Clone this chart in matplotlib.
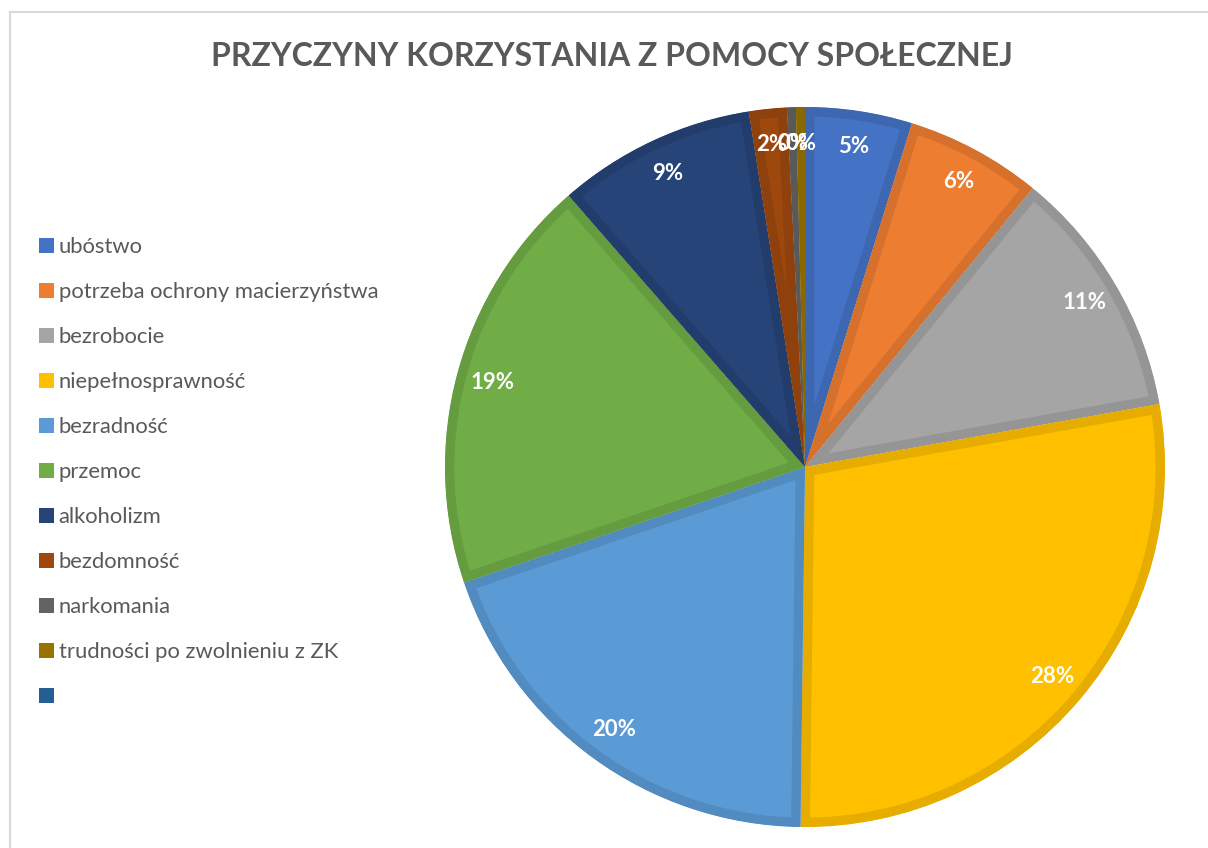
import matplotlib.pyplot as plt
from matplotlib.patches import Rectangle
import matplotlib.colors as mcolors

categories = ['ubóstwo', 'potrzeba ochrony macierzyństwa', 'bezrobocie', 'niepełnosprawność',
              'bezradność', 'przemoc', 'alkoholizm', 'bezdomność', 'narkomania',
              'trudności po zwolnieniu z ZK', '']
shares = [4.8, 6.1, 11.3, 28.0, 19.6, 18.8, 8.9, 1.7, 0.4, 0.4, 0.0]
colors = ['#4472C4', '#ED7D31', '#A5A5A5', '#FFC000', '#5B9BD5', '#70AD47',
          '#264478', '#9E480E', '#636363', '#997300', '#255E91']

plt.rcParams['font.family'] = ['Lato', 'DejaVu Sans']

W, H = 1208, 848
fig = plt.figure(figsize=(W / 100, H / 100), dpi=100)

# chart frame (only left/top edges visible in the picture)
fig.patches.append(Rectangle((10 / W, -0.1), 1.2, 1 - 12 / H + 0.1, transform=fig.transFigure,
                             fill=False, edgecolor='#d9d9d9', linewidth=1.5))

cx, cy, r = 805, 467, 360
ax = fig.add_axes([(cx - r) / W, 1 - (cy + r) / H, 2 * r / W, 2 * r / H])


def pct(p):
    return '' if p <= 0 else f'{p:.0f}%'


wedges, texts, autotexts = ax.pie(shares, colors=colors, startangle=90, counterclock=False,
                                  radius=1, autopct=pct, pctdistance=0.9,
                                  textprops=dict(color='white', fontsize=16, fontweight='bold'))
for w, c, v in zip(wedges, colors, shares):
    rgb = mcolors.to_rgb(c)
    w.set_edgecolor(tuple(x * 0.9 for x in rgb))
    w.set_linewidth(13.5 if v > 0 else 0)
    # keep only the inner half of the stroke
    w.set_clip_path(w)
    w.set_clip_on(True)
ax.set_xlim(-1, 1)
ax.set_ylim(-1, 1)
ax.set_aspect('equal')
ax.axis('off')

fig.text(612 / W, 1 - 57 / H, 'PRZYCZYNY KORZYSTANIA Z POMOCY SPOŁECZNEJ', ha='center', va='center',
         fontsize=23, fontweight='bold', color='#595959')

handles = [Rectangle((0, 0), 1, 1, facecolor=c) for c in colors]
fig.legend(handles, categories, loc='upper left', bbox_to_anchor=(28 / W, 1 - 226 / H),
           frameon=False, fontsize=15.8, labelcolor='#595959', handlelength=0.68, handleheight=0.68,
           handletextpad=0.22, labelspacing=1.14, borderpad=0)

fig.savefig('out.png', dpi=100)
